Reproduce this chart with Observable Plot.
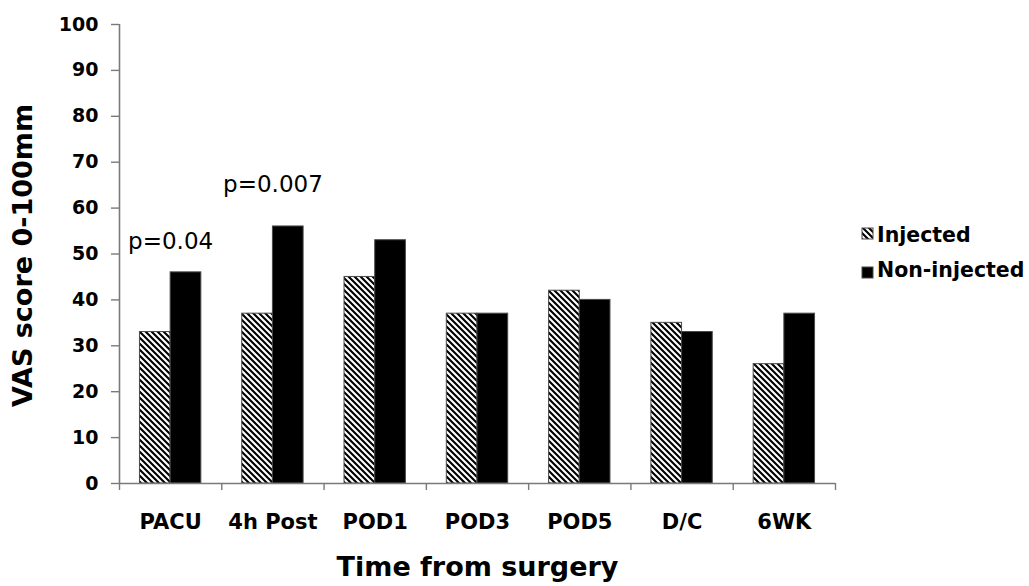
<!DOCTYPE html>
<html>
<head>
<meta charset="utf-8">
<script src="https://cdn.jsdelivr.net/npm/d3@7"></script>
<script src="https://cdn.jsdelivr.net/npm/@observablehq/plot@0.6"></script>
<style>
  body { margin: 0; background: #fff; font-family: "DejaVu Sans", sans-serif; }
  #wrap { position: relative; width: 1029px; height: 586px; background: #fff; }
  #legend { position: absolute; left: 855px; top: 220px; }
</style>
</head>
<body>
<div id="wrap"><svg id="legend" width="174" height="70"></svg></div>
<script>
const categories = ["PACU", "4h Post", "POD1", "POD3", "POD5", "D/C", "6WK"];
const seriesNames = ["Injected", "Non-injected"];
const injected = [33, 37, 45, 37, 42, 35, 26];
const nonInjected = [46, 56, 53, 37, 40, 33, 37];
const yTicks = [0, 10, 20, 30, 40, 50, 60, 70, 80, 90, 100];
const pLabels = ["p=0.04", "p=0.007"];
const pCategories = ["PACU", "4h Post"];
const pValues = [51, 63.4];
const xTitle = "Time from surgery";
const yTitle = "VAS score 0-100mm";

const seriesValues = [injected, nonInjected];
const seriesFill = ["url(#hatch)", "black"];
const barWidth = 0.3; // fraction of a category slot per bar
const seriesOffset = [-barWidth, 0];

const rows = [];
seriesNames.forEach((s, si) => {
  categories.forEach((c, i) => {
    rows.push({ category: c, index: i, series: s, si, value: seriesValues[si][i] });
  });
});
const annotations = pLabels.map((t, k) => ({ text: t, index: categories.indexOf(pCategories[k]), value: pValues[k] }));

const xDomain = [-0.5, categories.length - 0.5];
const boundaries = d3.range(categories.length + 1).map(i => i - 0.5);
const axisColor = "#7a7a7a";

const plot = Plot.plot({
  width: 1029,
  height: 586,
  marginLeft: 119,
  marginRight: 194,
  marginTop: 24,
  marginBottom: 103,
  style: { fontFamily: "DejaVu Sans, sans-serif", background: "#fff", color: "black" },
  x: { type: "linear", domain: xDomain },
  y: { type: "linear", domain: [0, 100] },
  color: { type: "identity" },
  marks: [
    Plot.rect(rows, {
      x1: d => d.index + seriesOffset[d.si],
      x2: d => d.index + seriesOffset[d.si] + barWidth,
      y1: d => 0,
      y2: "value",
      fill: d => seriesFill[d.si],
      stroke: "#4a4a4a",
      strokeWidth: 1
    }),
    Plot.ruleX([xDomain[0]], { stroke: axisColor, strokeWidth: 1.6 }),
    Plot.ruleY([0], { stroke: axisColor, strokeWidth: 1.6 }),
    Plot.axisY(yTicks, {
      tickSize: 8, tickPadding: 13, stroke: axisColor, strokeWidth: 1.4,
      fill: "black", fontSize: 19, fontWeight: "bold", label: null
    }),
    Plot.axisX(boundaries, {
      tickSize: 7, stroke: axisColor, strokeWidth: 1.4, tickFormat: () => "", label: null
    }),
    Plot.axisX(d3.range(categories.length), {
      tickSize: 0, tickPadding: 31, tickFormat: i => categories[i],
      fill: "black", fontSize: 21, fontWeight: "bold", label: null
    }),
    Plot.text(annotations, {
      x: "index", y: "value", text: "text", textAnchor: "middle",
      lineAnchor: "bottom", fontSize: 23, fill: "black"
    }),
    Plot.text([xTitle], {
      frameAnchor: "bottom", textAnchor: "middle", lineAnchor: "bottom", dy: 92,
      fontSize: 27, fontWeight: "bold", fill: "black"
    }),
    Plot.text([yTitle], {
      frameAnchor: "left", textAnchor: "middle", rotate: -90, dx: -96, dy: 1.5,
      fontSize: 27, fontWeight: "bold", fill: "black"
    })
  ]
});

// hatch pattern definition
const defs = d3.select(plot).insert("defs", ":first-child");
const pat = defs.append("pattern")
  .attr("id", "hatch")
  .attr("patternUnits", "userSpaceOnUse")
  .attr("width", 6).attr("height", 6);
pat.append("rect").attr("width", 6).attr("height", 6).attr("fill", "white");
pat.append("path")
  .attr("d", "M-1,-1 L7,7 M2,-4 L10,4 M-4,2 L4,10")
  .attr("stroke", "black").attr("stroke-width", 2.1);

document.getElementById("wrap").prepend(plot);

// legend
const legend = d3.select("#legend");
const legendRows = [
  { name: seriesNames[0], fill: seriesFill[0], ry: 8, ty: 22 },
  { name: seriesNames[1], fill: seriesFill[1], ry: 47, ty: 57 }
];
legendRows.forEach(r => {
  legend.append("rect").attr("x", 7).attr("y", r.ry).attr("width", 11).attr("height", 11)
    .attr("fill", r.fill).attr("stroke", "#4a4a4a").attr("stroke-width", 1);
  legend.append("text").attr("x", 22).attr("y", r.ty).text(r.name)
    .attr("font-family", "DejaVu Sans, sans-serif").attr("font-weight", "bold")
    .attr("font-size", 20.5).attr("fill", "black");
});
</script>
</body>
</html>
